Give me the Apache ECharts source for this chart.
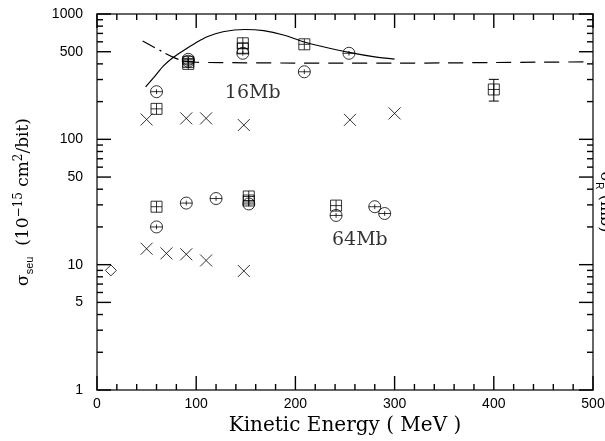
<!DOCTYPE html>
<html>
<head>
<meta charset="utf-8">
<script src="https://cdn.jsdelivr.net/npm/echarts@6/dist/echarts.min.js"></script>
<style>html,body{margin:0;padding:0;background:#fff;}#c{width:605px;height:441px;}</style>
</head>
<body>
<div id="c"></div>
<script>
// ---- data ----
const squares16 = [[60,175],[92,400],[92,415],[147,532],[147,584],[209,573],[400,250]];
const circles16 = [[60,240],[92,435],[92,420],[147,486],[209,346],[254,486]];
const crosses16 = [[50,144],[90,147],[110,147],[148,130],[255,143],[300,161]];
const squares64 = [[60,29],[153,35],[153,32.5],[241,29.6]];
const circles64 = [[60,20],[90,31],[120,33.7],[153,30.5],[241,24.7],[280,29],[290,25.6]];
const crosses64 = [[50,13.4],[70,12.3],[90,12.1],[110,10.8],[148,8.9]];
const diamonds = [[14,9]];
const errorBars = [[400,202,301]];
const solidCurve = [[49,262],[58,316],[67,385],[77,451],[88,516],[99,584],[111,659],[127,722],[149,752],[168,736],[188,680],[208,601],[228,548],[254,494],[280,455],[300,437]];
const dashDotCurve = [[46,609],[62,520],[77,451],[88,420]];
const dashedCurve = [[88,420],[100,412],[150,408],[200,406],[250,405],[300,405],[350,407],[400,410],[450,413],[500,415]];
const textLabels = [[157,234,'16Mb'],[265,15.7,'64Mb']];
const xMajor = [0,100,200,300,400,500];
const xMinor = [20,40,60,80,120,140,160,180,220,240,260,280,320,340,360,380,420,440,460,480];
const yMajor = [1,5,10,50,100,500,1000];
const yMinor = [2,3,4,6,7,8,9,20,30,40,60,70,80,90,200,300,400,600,700,800,900];

const sqPath = 'path://M0,0L10,0L10,10L0,10Z M5,0L5,10 M0,5L10,5';
const cirPath = 'path://M0,5A5,5,0,1,1,10,5A5,5,0,1,1,0,5Z M0,5L10,5 M5,3L5,7';
const crossPath = 'path://M0,0L10,10M10,0L0,10';

const AX = '#333';
const serif = 'DejaVu Serif';
const sans = 'Liberation Sans';
const X0 = 0, X1 = 500, Y0 = 1, Y1 = 1000;

function xAx(pos, labels){
  return {
    type:'value', position:pos, min:X0, max:X1, interval:100,
    axisLine:{show:true, onZero:false, lineStyle:{color:AX,width:1.5}},
    axisTick:{show:false}, minorTick:{show:false},
    splitLine:{show:false}, minorSplitLine:{show:false},
    axisLabel:{show:labels, margin:7, color:'#000', fontFamily:sans, fontSize:14},
    name: labels ? 'Kinetic Energy ( MeV )' : '',
    nameLocation:'middle', nameGap:24,
    nameTextStyle:{fontFamily:serif, fontSize:20, color:'#000'}
  };
}
function yAx(pos, labels, name, fs){
  fs = fs || 17;
  return {
    type:'log', logBase:10, position:pos, min:Y0, max:Y1,
    axisLine:{show:true, onZero:false, lineStyle:{color:AX,width:1.5}},
    axisTick:{show:false},
    splitLine:{show:false}, minorSplitLine:{show:false},
    axisLabel:{show:labels, customValues: yMajor, margin:14, color:'#000', fontFamily:sans, fontSize:14,
      formatter:function(v){return String(Math.round(v));}},
    name: name || '',
    nameLocation:'middle',
    nameGap: pos==='left' ? 62 : 1,
    nameRotate: pos==='left' ? 90 : -90,
    nameTextStyle:{fontFamily:serif, fontSize:fs, color:'#000',
      rich:{
        m:{fontFamily:serif, fontSize:fs, lineHeight:22, color:'#000'},
        sub:{fontFamily:sans, fontSize:fs-6, lineHeight:11, verticalAlign:'bottom', color:'#000'},
        sup:{fontFamily:serif, fontSize:fs-5, lineHeight:12, verticalAlign:'top', color:'#000'}
      }}
  };
}

function scat(data, sym, size){
  return {type:'scatter', xAxisIndex:0, yAxisIndex:0, data:data, symbol:sym, symbolSize:size,
    itemStyle:{color:'transparent', borderColor:'#000', borderWidth:1}, silent:true, z:5};
}

// tick marks drawn through the axes' scales on both sides of the frame (filled thin rects)
function tickSeries(vals, isX, len){
  const tw = 1.4;
  return {type:'custom', silent:true, z:8, clip:false,
    data: vals.map(v => isX ? [v, 10] : [250, v]),
    renderItem:function(params, api){
      const st = {fill:'#000'};
      if (isX) {
        const v = api.value(0);
        const b = api.coord([v, Y0]), t = api.coord([v, Y1]);
        return {type:'group', children:[
          {type:'rect', shape:{x:b[0]-tw/2, y:b[1]-len, width:tw, height:len}, style:st},
          {type:'rect', shape:{x:t[0]-tw/2, y:t[1], width:tw, height:len}, style:st}
        ]};
      } else {
        const v = api.value(1);
        const l = api.coord([X0, v]), r = api.coord([X1, v]);
        return {type:'group', children:[
          {type:'rect', shape:{x:l[0], y:l[1]-tw/2, width:len, height:tw}, style:st},
          {type:'rect', shape:{x:r[0]-len, y:r[1]-tw/2, width:len, height:tw}, style:st}
        ]};
      }
    }};
}

const option = {
  animation:false,
  backgroundColor:'#fff',
  grid:{left:97, right:12, top:14, bottom:51, containLabel:false, outerBoundsMode:'none'},
  xAxis:[xAx('bottom',true), xAx('top',false)],
  yAxis:[
    yAx('left', true, '{m|σ}{sub|seu}{m|  (10}{sup|−15}{m| cm}{sup|2}{m|/bit)}', 17),
    yAx('right', false, '{m|σ}{sub|R}{m| (mb)}', 16)
  ],
  series:[
    tickSeries(xMajor, true, 14),
    tickSeries(xMinor, true, 6),
    tickSeries(yMajor, false, 14),
    tickSeries(yMinor, false, 6),
    {type:'line', data:solidCurve, smooth:0.3, symbol:'none', lineStyle:{color:'#000',width:1.2}, silent:true},
    {type:'line', data:dashDotCurve, smooth:true, symbol:'none', lineStyle:{color:'#000',width:1.2,type:[14,5,2,5]}, silent:true},
    {type:'line', data:dashedCurve, smooth:0.3, symbol:'none', lineStyle:{color:'#000',width:1.2,type:[15,9]}, silent:true},
    scat(squares16, sqPath, 11),
    scat(circles16, cirPath, 12),
    scat(crosses16, crossPath, 12),
    scat(squares64, sqPath, 11),
    scat(circles64, cirPath, 12),
    scat(crosses64, crossPath, 12),
    scat(diamonds, 'diamond', 11),
    {type:'custom', data:errorBars, silent:true,
      renderItem:function(params, api){
        const x = api.value(0);
        const lo = api.coord([x, api.value(1)]);
        const hi = api.coord([x, api.value(2)]);
        const w = 5;
        return {type:'group', children:[
          {type:'line', shape:{x1:lo[0],y1:lo[1],x2:hi[0],y2:hi[1]}, style:{stroke:'#000',lineWidth:1}},
          {type:'line', shape:{x1:lo[0]-w,y1:lo[1],x2:lo[0]+w,y2:lo[1]}, style:{stroke:'#000',lineWidth:1}},
          {type:'line', shape:{x1:hi[0]-w,y1:hi[1],x2:hi[0]+w,y2:hi[1]}, style:{stroke:'#000',lineWidth:1}}
        ]};
      }},
    {type:'scatter', data:textLabels.map(d=>({value:[d[0],d[1]], name:d[2]})), symbol:'rect', symbolSize:1,
      itemStyle:{color:'transparent'}, silent:true, z:6,
      label:{show:true, position:'inside', formatter:p=>p.name, fontFamily:serif, fontSize:19, color:'#000'}}
  ]
};
const chart = echarts.init(document.getElementById('c'), null, {renderer:'canvas'});
chart.setOption(option);
</script>
</body>
</html>
